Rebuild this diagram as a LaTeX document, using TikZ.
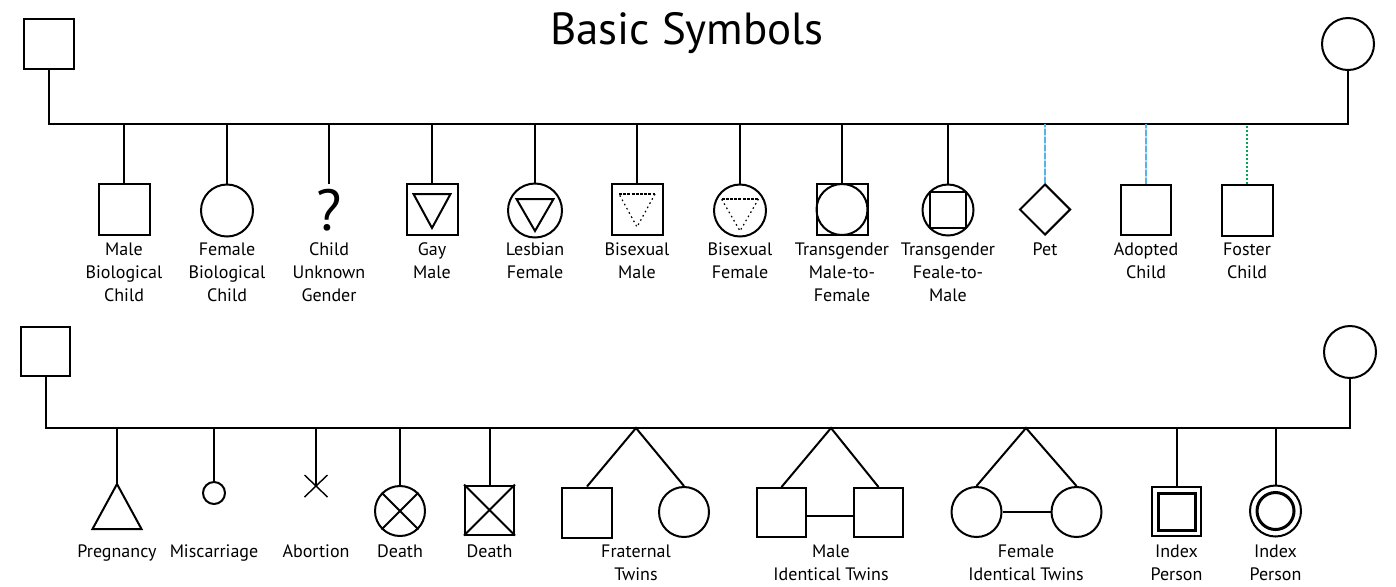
\documentclass[tikz,border=0pt]{standalone}
\usepackage{fontspec}
\setmainfont{PT Sans}
\usetikzlibrary{shapes.geometric}
\definecolor{colAdopt}{RGB}{86,180,228}
\definecolor{colFoster}{RGB}{0,166,81}

\begin{document}
\begin{tikzpicture}[
  x=0.5pt, y=-0.5pt, line width=1pt,
  male/.style={rectangle, draw, minimum size=25.5pt, inner sep=0pt},
  female/.style={circle, draw, minimum size=26pt, inner sep=0pt},
  pet/.style={diamond, draw, minimum width=25.5pt, minimum height=25.5pt, inner sep=0pt},
  lbl/.style={anchor=north, inner sep=0pt, align=center, font=\fontsize{9}{11.5}\selectfont},
  ttl/.style={anchor=base, inner sep=0pt, font=\fontsize{22.5}{26}\selectfont},
  bidash/.style={line width=0.6pt, dash pattern=on 1.5pt off 0.6pt},
  bidot/.style={line width=0.6pt, dash pattern=on 0.8pt off 1.6pt},
  adopt/.style={draw=colAdopt!45, postaction={draw=colAdopt, dash pattern=on 3pt off 1pt}},
  foster/.style={draw=colFoster, dash pattern=on 1pt off 1pt},
]
\useasboundingbox (0,0) rectangle (1396,586);

\node[ttl] (title) at (687,44) {Basic Symbols};

% first family
\node[male, minimum size=25pt] (fa1) at (49,44) {};
\node[female] (mo1) at (1348,44) {};
\coordinate (sib1) at (0,124);
\coordinate (lab1) at (0,242);

\node[male] (mbc) at (124,209.5) {};
\node[female] (fbc) at (227,210.5) {};
\node[inner sep=0pt, font=\fontsize{29}{29}\selectfont] (cug) at (329,210) {?};
\node[male] (gm) at (432,209.5) {};
\node[female, minimum size=27pt] (lf) at (535,210.5) {};
\node[male] (bm) at (637,209.5) {};
\node[female] (bf) at (740,210.5) {};
\node[male] (tmf) at (842,209.5) {};
\node[female, minimum size=25.5pt] (tmfc) at (tmf) {};
\node[female, minimum size=25.5pt] (tfm) at (948,210) {};
\node[male, minimum size=18pt] (tfms) at (tfm) {};
\node[pet] (pet) at (1045,209.5) {};
\node[male, minimum size=25pt] (adc) at (1146,209.5) {};
\node[male] (foc) at (1247,210.5) {};

\draw (gm) ++(-18.5,-15.5) -- ++(37,0) -- ++(-18.5,34) -- cycle;
\draw (lf) ++(-18.5,-11.5) -- ++(37,0) -- ++(-18.5,32) -- cycle;
\draw[bidash] (bm) ++(-18,-15.5) -- ++(36,0);
\draw[bidot] (bm) ++(18,-15.5) -- ++(-18,33) -- ++(-18,-33);
\draw[bidash] (bf) ++(-18.5,-11.5) -- ++(37,0);
\draw[bidot] (bf) ++(18.5,-11.5) -- ++(-18.5,32) -- ++(-18.5,-32);

\draw (fa1.south) |- (mo1.south |- sib1) -- (mo1.south);
\draw (mbc.north) -- (mbc.north |- sib1);
\draw (fbc.north) -- (fbc.north |- sib1);
\draw ([yshift=2pt]cug.north) -- (cug.north |- sib1);
\draw (gm.north) -- (gm.north |- sib1);
\draw (lf.north) -- (lf.north |- sib1);
\draw (bm.north) -- (bm.north |- sib1);
\draw (bf.north) -- (bf.north |- sib1);
\draw (tmf.north) -- (tmf.north |- sib1);
\draw (tfm.north) -- (tfm.north |- sib1);
\draw[adopt] (pet.north) -- (pet.north |- sib1);
\draw[adopt] (adc.north) -- (adc.north |- sib1);
\draw[foster] (foc.north) -- (foc.north |- sib1);

\node[lbl] (mbcl) at (mbc |- lab1) {Male\\Biological\\Child};
\node[lbl] (fbcl) at (fbc |- lab1) {Female\\Biological\\Child};
\node[lbl] (cugl) at (cug |- lab1) {Child\\Unknown\\Gender};
\node[lbl] (gml) at (gm |- lab1) {Gay\\Male};
\node[lbl] (lfl) at (lf |- lab1) {Lesbian\\Female};
\node[lbl] (bml) at (bm |- lab1) {Bisexual\\Male};
\node[lbl] (bfl) at (bf |- lab1) {Bisexual\\Female};
\node[lbl] (tmfl) at (tmf |- lab1) {Transgender\\Male-to-\\Female};
\node[lbl] (tfml) at (tfm |- lab1) {Transgender\\Feale-to-\\Male};
\node[lbl] (petl) at (pet |- lab1) {Pet};
\node[lbl] (adcl) at (adc |- lab1) {Adopted\\Child};
\node[lbl] (focl) at (foc |- lab1) {Foster\\Child};

% second family
\node[male, minimum size=24.5pt] (fa2) at (45.5,351) {};
\node[female] (mo2) at (1350,352) {};
\coordinate (sib2) at (0,428);
\coordinate (lab2) at (0,544);

\coordinate (preg) at (117,484);
\node[female, minimum size=11pt] (misc) at (214,493) {};
\coordinate (abo) at (316,486);
\node[female, minimum size=25pt] (dth1) at (400,511) {};
\node[male, minimum size=24.5pt] (dth2) at (489.5,510) {};
\coordinate (ftw) at (636,428);
\node[male, minimum size=25pt] (ftw1) at (587,512.5) {};
\node[female, minimum size=25pt] (ftw2) at (684,512) {};
\coordinate (mit) at (831,428);
\node[male, minimum size=24.5pt] (mit1) at (781.5,512.5) {};
\node[male, minimum size=24.5pt] (mit2) at (878.5,512.5) {};
\coordinate (fit) at (1026,428);
\node[female, minimum size=25pt] (fit1) at (976.5,512) {};
\node[female, minimum size=25pt] (fit2) at (1076.5,512) {};
\node[male, minimum size=24.5pt] (idx1) at (1176.5,511.5) {};
\node[male, minimum size=18.5pt, line width=1.5pt] (idx1i) at (idx1) {};
\node[female, minimum size=25.5pt] (idx2) at (1275.5,511) {};
\node[female, minimum size=18.5pt, line width=1.5pt] (idx2i) at (idx2) {};

\draw (preg) -- ++(-24.5,45) -- ++(49,0) -- cycle;
\draw[line width=0.7pt] (abo) ++(-11.5,-11) -- ++(23,22) (abo) ++(11.5,-11) -- ++(-23,22);
\draw (dth1.45) -- (dth1.225) (dth1.135) -- (dth1.315);
\draw (dth2.north west) -- (dth2.south east) (dth2.north east) -- (dth2.south west);

\draw (fa2.south) |- (mo2.south |- sib2) -- (mo2.south);
\draw (preg) -- (preg |- sib2);
\draw (misc.north) -- (misc.north |- sib2);
\draw (abo) -- (abo |- sib2);
\draw (dth1.north) -- (dth1.north |- sib2);
\draw (dth2.north) -- (dth2.north |- sib2);
\draw (ftw1.north) -- (ftw) -- (ftw2.north);
\draw (mit1.north) -- (mit) -- (mit2.north);
\draw ([yshift=-1.75pt]mit1.east) -- ([yshift=-1.75pt]mit2.west);
\draw (fit1.north) -- (fit) -- (fit2.north);
\draw (fit1.east) -- (fit2.west);
\draw (idx1.north) -- (idx1.north |- sib2);
\draw (idx2.north) -- (idx2.north |- sib2);

\node[lbl] (pregl) at (preg |- lab2) {Pregnancy};
\node[lbl] (miscl) at (misc |- lab2) {Miscarriage};
\node[lbl] (abol) at (abo |- lab2) {Abortion};
\node[lbl] (dth1l) at (dth1 |- lab2) {Death};
\node[lbl] (dth2l) at (dth2 |- lab2) {Death};
\node[lbl] (ftwl) at (ftw |- lab2) {Fraternal\\Twins};
\node[lbl] (mitl) at (mit |- lab2) {Male\\Identical Twins};
\node[lbl] (fitl) at (fit |- lab2) {Female\\Identical Twins};
\node[lbl] (idx1l) at (idx1 |- lab2) {Index\\Person};
\node[lbl] (idx2l) at (idx2 |- lab2) {Index\\Person};
\end{tikzpicture}
\end{document}
